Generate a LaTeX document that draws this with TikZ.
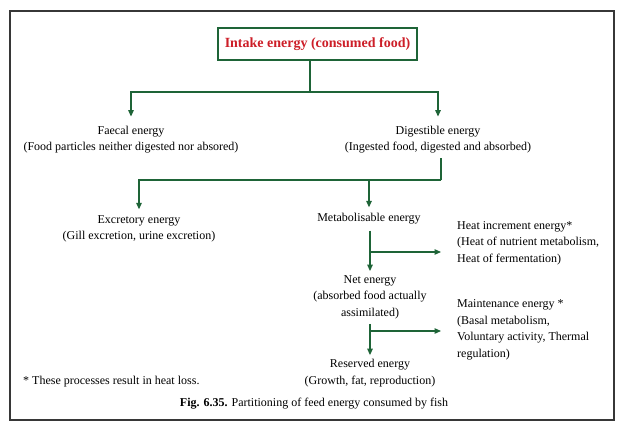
\documentclass[tikz,border=0pt]{standalone}
\usepackage{fontspec}
\setmainfont{Liberation Serif}
\usetikzlibrary{arrows.meta}
\definecolor{lineg}{RGB}{30,100,55}
\definecolor{titler}{RGB}{205,30,40}
\definecolor{framec}{RGB}{55,55,55}
\begin{document}
\begin{tikzpicture}[x=1pt,y=-1pt,
  txt/.style={align=center, inner sep=0pt, font=\fontsize{12}{16.5}\selectfont},
  rtxt/.style={align=left, anchor=west, inner sep=0pt, font=\fontsize{12}{16.5}\selectfont},
  conn/.style={draw=lineg, line width=1.2pt},
  arr/.style={conn, -{Triangle[length=6.5pt,width=5.5pt]}},
  titlebox/.style={draw=lineg, line width=1.2pt, minimum width=199pt, minimum height=32pt, inner sep=0pt, text=titler, font=\fontsize{14}{16}\selectfont\bfseries},
  framebox/.style={draw=framec, line width=1.3pt, inner sep=0pt}]
\useasboundingbox (0,0) rectangle (623,428);
\fill[white] (0,0) rectangle (623,428);
\node[framebox, minimum width=604pt, minimum height=409pt] (frame) at (312,215.5) {};

\node[titlebox] (intake) at (317.5,44) {Intake energy (consumed food)};
\node[txt] (faecal) at (131,139.5) {Faecal energy\\(Food particles neither digested nor absored)};
\node[txt] (digest) at (438,139.5) {Digestible energy\\(Ingested food, digested and absorbed)};

\coordinate (j1) at (310,92);
\draw[conn] (intake.south -| j1) -- (j1);
\draw[arr, shorten >=9pt] (j1) -| (faecal.north);
\draw[arr, shorten >=9pt] (j1) -| (digest.north);

\node[txt] (excr) at (139,229) {Excretory energy\\(Gill excretion, urine excretion)};
\node[txt] (metab) at (369,219) {Metabolisable energy};
\coordinate (j2) at (441,180);
\draw[conn, shorten <=5pt] (digest.south -| j2) -- (j2);
\draw[arr, shorten >=6pt] (j2) -| (excr.north);
\draw[arr, shorten >=6pt] (j2) -| (metab.north);

\node[txt] (net) at (370,297) {Net energy\\(absorbed food actually\\assimilated)};
\node[rtxt] (heat) at (457,243) {Heat increment energy*\\(Heat of nutrient metabolism,\\Heat of fermentation)};
\draw[arr, shorten <=6pt, shorten >=4pt] (metab.south -| net.north) -- (net.north);
\coordinate (b1) at (370,252);
\draw[arr, shorten >=16pt] (b1) -- (b1 -| heat.west);

\node[txt] (reserved) at (370,373) {Reserved energy\\(Growth, fat, reproduction)};
\node[rtxt] (maint) at (457,330) {Maintenance energy *\\(Basal metabolism,\\Voluntary activity, Thermal\\regulation)};
\draw[arr, shorten <=5pt, shorten >=4pt] (net.south) -- (net.south |- reserved.north);
\coordinate (b2) at (370,331);
\draw[arr, shorten >=16pt] (b2) -- (b2 -| maint.west);

\node[rtxt] (foot) at (23,382) {* These processes result in heat loss.};
\node[txt] (cap) at (314,404) {\textbf{Fig. 6.35.} Partitioning of feed energy consumed by fish};
\end{tikzpicture}
\end{document}
